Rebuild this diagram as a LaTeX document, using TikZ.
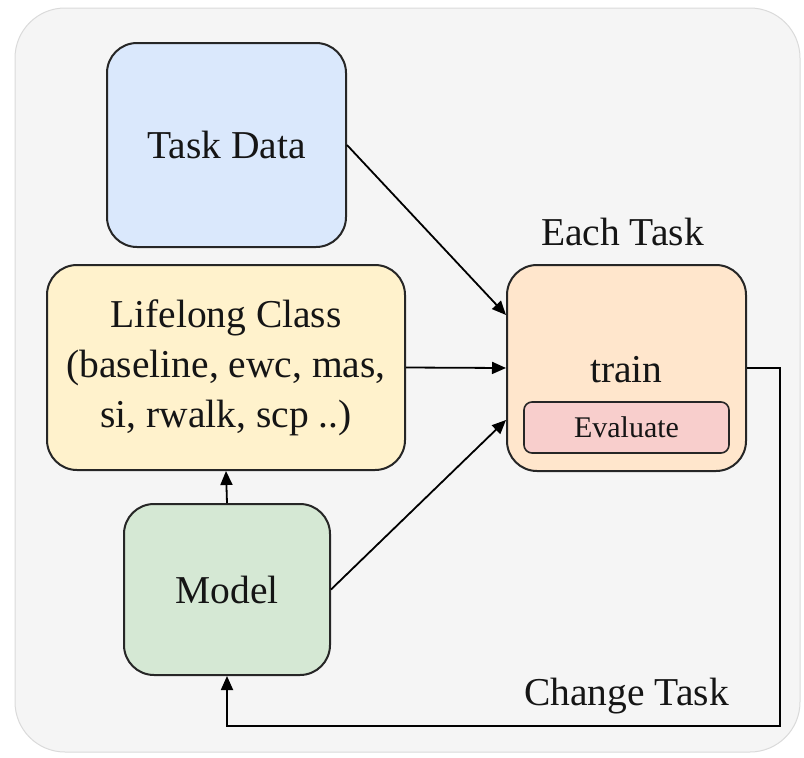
\documentclass[tikz,border=0pt]{standalone}
\usepackage{fontspec}
\setmainfont{Liberation Serif}
\usetikzlibrary{arrows.meta,calc}
\definecolor{bgfill}{HTML}{F5F5F5}
\definecolor{bgline}{HTML}{DADADA}
\definecolor{bluefill}{HTML}{DAE8FC}
\definecolor{yellowfill}{HTML}{FFF2CC}
\definecolor{greenfill}{HTML}{D5E8D4}
\definecolor{orangefill}{HTML}{FFE6CC}
\definecolor{redfill}{HTML}{F8CECC}
\definecolor{boxline}{HTML}{262626}
\definecolor{txt}{HTML}{151515}
\tikzset{
  box/.style={draw=boxline, line width=2pt, rounded corners=30pt, inner sep=0pt,
    align=center, text=txt, font=\fontsize{39.5}{50}\selectfont},
  smallbox/.style={draw=boxline, line width=1.6pt, rounded corners=8pt, inner sep=0pt,
    align=center, text=txt, font=\fontsize{30}{36}\selectfont},
  lbl/.style={inner sep=0pt, text=txt, font=\fontsize{39.5}{50}\selectfont},
  arr/.style={draw=black, line width=1.8pt, -{Triangle[length=14pt,width=12pt]}},
}
\begin{document}
\begin{tikzpicture}[x=1pt,y=-1pt]
\useasboundingbox (0,0) rectangle (804,758);
\fill[bgfill, draw=bgline, line width=1pt, rounded corners=50pt] (15,8) rectangle (800,752);

\node[box, fill=bluefill, minimum width=239pt, minimum height=204pt] (td) at (226.5,145) {Task Data};
\node[box, fill=yellowfill, minimum width=358pt, minimum height=205pt] (lc) at (226,367.5)
  {Lifelong Class\\(baseline, ewc, mas,\\si, rwalk, scp ..)};
\node[box, fill=greenfill, minimum width=206pt, minimum height=171pt] (model) at (227,589.5) {Model};
\node[box, fill=orangefill, minimum width=239pt, minimum height=206pt] (tr) at (626.5,368) {};
\node[lbl, anchor=base] (trtext) at (626.5,382) {train};
\node[smallbox, fill=redfill, minimum width=205pt, minimum height=51pt] (ev) at (626.5,427.5) {Evaluate};
\node[lbl, anchor=base] (each) at (622.5,245) {Each Task};
\node[lbl, anchor=base] (change) at (626.5,705) {Change Task};

\coordinate (corner) at (780,726);

\draw[arr] (td.east) -- ([yshift=53pt]tr.west);
\draw[arr] (lc.east) -- (tr.west);
\draw[arr] (model.east) -- ([yshift=-52pt]tr.west);
\draw[arr] (model.north) -- (lc.south);
\draw[arr] (tr.east) -| (corner) -| (model.south);
\end{tikzpicture}
\end{document}
